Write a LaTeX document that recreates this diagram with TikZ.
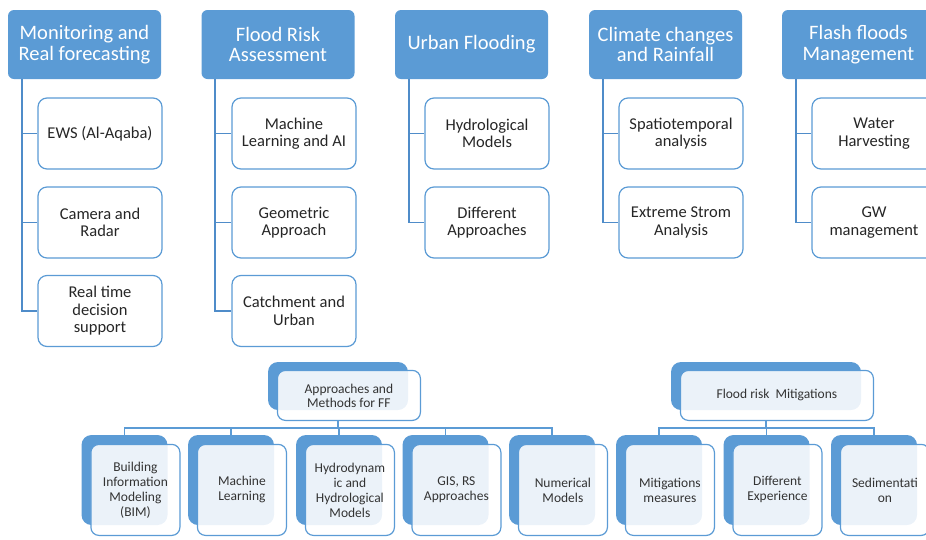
\documentclass[tikz,border=0pt]{standalone}
\usepackage{fontspec}
\setmainfont{Carlito}
\usetikzlibrary{positioning, calc}
\definecolor{smblue}{HTML}{5B9BD5}
\definecolor{smline}{HTML}{4F8CC9}

\begin{document}
\begin{tikzpicture}[x=1pt, y=-1pt,
    hdr/.style={rectangle, rounded corners=6pt, fill=smblue, text=white,
      minimum width=153pt, minimum height=69pt, inner sep=0pt, align=center,
      font=\fontsize{20.5}{20.5}\selectfont},
    sub/.style={rectangle, rounded corners=9pt, draw=smblue, line width=1.2pt,
      fill=white, minimum width=124pt, minimum height=71pt, inner sep=0pt,
      align=center, text=black!85, font=\fontsize{16.5}{17.5}\selectfont},
    link/.style={draw=smline, line width=1.8pt},
    twig/.style={draw=smblue, line width=1.3pt},
    leafback/.style={rectangle, rounded corners=10pt, fill=smblue, inner sep=0pt,
      minimum width=86pt, minimum height=90pt},
    leafbox/.style={rectangle, rounded corners=8pt, draw=smblue, line width=1.2pt,
      fill=white, fill opacity=0.88, text opacity=1, inner sep=0pt, align=center,
      text=black!80, minimum width=89pt, minimum height=91pt, anchor=north west,
      font=\fontsize{13.5}{15}\selectfont}
  ]
  \useasboundingbox (0,0) rectangle (926,539);
  \clip (0,0) rectangle (926,539);

  % top row
  \node[hdr] (mon) at (84.5,44.5) {Monitoring and\\Real forecasting};
  \node[hdr] (risk) at (278,44.5) {Flood Risk\\Assessment};
  \node[hdr] (urban) at (471.5,44.5) {Urban Flooding};
  \node[hdr] (climate) at (665.5,44.5) {Climate changes\\and Rainfall};
  \node[hdr] (flash) at (858.5,44.5) {Flash floods\\Management};

  \node[sub] (ews) at (100,133.5) {EWS (Al-Aqaba)};
  \node[sub] (radar) at (100,222.5) {Camera and\\Radar};
  \node[sub] (decision) at (100,311) {Real time\\decision\\support};

  \node[sub] (ml) at (294,133.5) {Machine\\Learning and AI};
  \node[sub] (geo) at (294,222.5) {Geometric\\Approach};
  \node[sub] (catch) at (294,311) {Catchment and\\Urban};

  \node[sub] (hydro) at (487,133.5) {Hydrological\\Models};
  \node[sub] (diff) at (487,222.5) {Different\\Approaches};

  \node[sub] (spatio) at (681,133.5) {Spatiotemporal\\analysis};
  \node[sub] (storm) at (681,222.5) {Extreme Strom\\Analysis};

  \node[sub] (water) at (874,133.5) {Water\\Harvesting};
  \node[sub] (gw) at (874,222.5) {GW\\management};

  \draw[link] ([xshift=14pt]mon.south west) |- (decision.west);
  \draw[link] ([xshift=14pt]mon.south west) |- (ews.west);
  \draw[link] ([xshift=14pt]mon.south west) |- (radar.west);

  \draw[link] ([xshift=14pt]risk.south west) |- (catch.west);
  \draw[link] ([xshift=14pt]risk.south west) |- (ml.west);
  \draw[link] ([xshift=14pt]risk.south west) |- (geo.west);

  \draw[link] ([xshift=14pt]urban.south west) |- (diff.west);
  \draw[link] ([xshift=14pt]urban.south west) |- (hydro.west);

  \draw[link] ([xshift=14pt]climate.south west) |- (storm.west);
  \draw[link] ([xshift=14pt]climate.south west) |- (spatio.west);

  \draw[link] ([xshift=14pt]flash.south west) |- (gw.west);
  \draw[link] ([xshift=14pt]flash.south west) |- (water.west);

  % methods group
  \node[leafback, minimum width=140pt, minimum height=48pt] (methodsback) at (338,386) {};
  \node[leafbox, minimum width=143pt, minimum height=50pt,
    font=\fontsize{13.5}{14}\selectfont] (methods)
    at ([shift={(9,8)}]methodsback.north west) {Approaches and\\Methods for FF};

  \node[leafback] (bimback) at (124.5,480) {};
  \node[leafbox] (bim) at ([shift={(9,9)}]bimback.north west) {Building\\Information\\Modeling\\(BIM)};
  \node[leafback] (learnback) at (231,480) {};
  \node[leafbox] (learn) at ([shift={(9,9)}]learnback.north west) {Machine\\Learning};
  \node[leafback] (dynback) at (339,480) {};
  \node[leafbox] (dyn) at ([shift={(9,9)}]dynback.north west) {Hydrodynam\\ic and\\Hydrological\\Models};
  \node[leafback] (gisback) at (445.5,480) {};
  \node[leafbox] (gis) at ([shift={(9,9)}]gisback.north west) {GIS, RS\\Approaches};
  \node[leafback] (numback) at (552,480) {};
  \node[leafbox] (num) at ([shift={(9,9)}]numback.north west) {Numerical\\Models};

  \draw[twig] (methodsback |- methods.south) -- ++(0,7) -| (bimback.north);
  \draw[twig] (methodsback |- methods.south) -- ++(0,7) -| (learnback.north);
  \draw[twig] (methodsback |- methods.south) -- ++(0,7) -| (dynback.north);
  \draw[twig] (methodsback |- methods.south) -- ++(0,7) -| (gisback.north);
  \draw[twig] (methodsback |- methods.south) -- ++(0,7) -| (numback.north);

  % mitigations group
  \node[leafback, minimum width=190pt, minimum height=48pt] (mitigback) at (766,386) {};
  \node[leafbox, minimum width=193pt, minimum height=50pt] (mitig)
    at ([shift={(9,8)}]mitigback.north west) {Flood risk\ \ Mitigations};

  \node[leafback] (measback) at (659,480) {};
  \node[leafbox] (meas) at ([shift={(9,9)}]measback.north west) {Mitigations\\measures};
  \node[leafback] (expback) at (766.5,480) {};
  \node[leafbox] (exp) at ([shift={(9,9)}]expback.north west) {Different\\Experience};
  \node[leafback] (sedback) at (874,480) {};
  \node[leafbox] (sed) at ([shift={(9,9)}]sedback.north west) {Sedimentati\\on};

  \draw[twig] (mitigback |- mitig.south) -- ++(0,7) -| (measback.north);
  \draw[twig] (mitigback |- mitig.south) -- ++(0,7) -| (expback.north);
  \draw[twig] (mitigback |- mitig.south) -- ++(0,7) -| (sedback.north);
\end{tikzpicture}
\end{document}
